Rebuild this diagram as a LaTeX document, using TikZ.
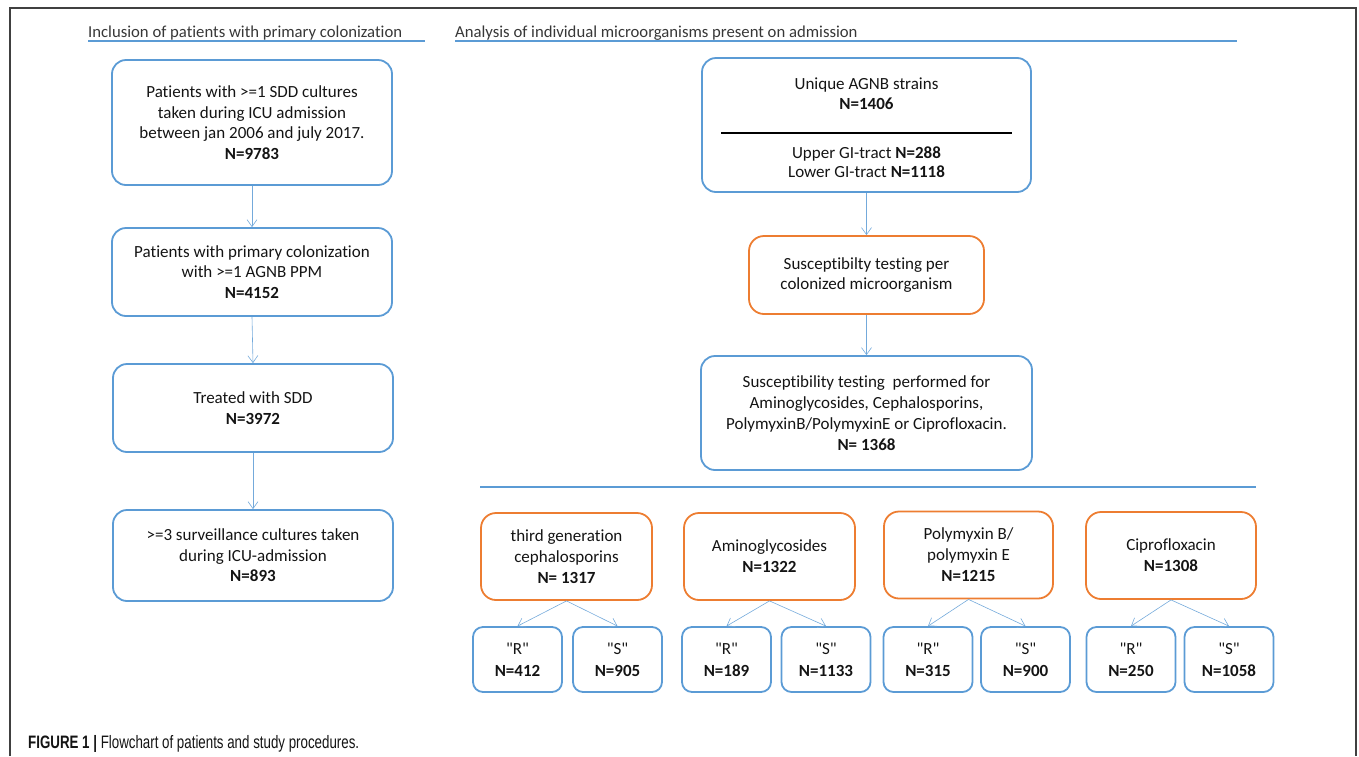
\documentclass[tikz,border=0pt]{standalone}
\usepackage{fontspec}
\setmainfont{Carlito}
\newfontfamily\calfont{Carlito}[Ligatures=NoCommon]
\newfontfamily\capfont{Liberation Sans}
\usetikzlibrary{arrows.meta}
\definecolor{oblue}{RGB}{91,155,213}
\definecolor{oorange}{RGB}{237,125,49}
\definecolor{txt}{RGB}{20,20,20}
\begin{document}
\begin{tikzpicture}[x=1pt,y=-1pt,
  box/.style={draw=oblue, line width=1.8pt, rounded corners=14pt, align=center, inner sep=0pt, text=txt, font=\calfont\fontsize{17}{20.5}\selectfont},
  obox/.style={box, draw=oorange, rounded corners=15pt},
  sbox/.style={box, rounded corners=10pt, font=\calfont\fontsize{17}{22}\selectfont},
  arr/.style={draw=oblue!85, line width=0.6pt, -{Straight Barb[length=7pt,width=10pt,line width=0.6pt]}},
  hline/.style={draw=oblue, line width=1.6pt},
  head/.style={inner sep=0pt, text=txt!85, font=\calfont\fontsize{16.7}{18}\selectfont}]
\useasboundingbox (0,0) rectangle (1359,756);
\draw[line width=1.1pt, draw=black!75] (10,756) -- (10,8) -- (1356,8) -- (1356,756);

% headers
\node[head, anchor=base west] (hl) at (88,37) {Inclusion of patients with primary colonization};
\node[head, anchor=base west] (hr) at (455,37) {Analysis of individual microorganisms present on admission};
\draw[hline] (88,41) -- (425,41);
\draw[hline] (455,41) -- (1237,41);

% left column
\node[box, minimum width=280pt, minimum height=125pt] (b1) at (252,122.5)
  {Patients with >=1 SDD cultures\\taken during ICU admission\\between jan 2006 and july 2017.\\\textbf{N=9783}};
\node[box, minimum width=280pt, minimum height=88pt] (b2) at (252,272)
  {Patients with primary colonization\\with >=1 AGNB PPM\\\textbf{N=4152}};
\node[box, minimum width=280pt, minimum height=88pt] (b3) at (253,408)
  {Treated with SDD\\\textbf{N=3972}};
\node[box, minimum width=280pt, minimum height=91pt] (b4) at (253,555.5)
  {>=3 surveillance cultures taken\\during ICU-admission\\\textbf{N=893}};
\draw[arr] (b1.south) -- (b2.north);
\draw[arr] (b2.south) -- (b3.north);
\draw[arr] (b3.south) -- (b4.north);

% right column
\node[box, minimum width=329pt, minimum height=134pt, font=\calfont\fontsize{17}{19.5}\selectfont] (ba) at (866.5,125)
  {\rule{0pt}{18pt}Unique AGNB strains\\\textbf{N=1406}\\[5pt]{\color{black}\rule{291pt}{1.6pt}}\\[5pt]Upper GI-tract \textbf{N=288}\\Lower GI-tract \textbf{N=1118}};
\node[obox, minimum width=235pt, minimum height=78pt] (bb) at (866.5,275)
  {Susceptibilty testing per\\colonized microorganism};
\node[box, minimum width=331pt, minimum height=114pt, font=\calfont\fontsize{17}{21}\selectfont] (bc) at (866.5,413)
  {Susceptibility testing\ \ performed for\\Aminoglycosides, Cephalosporins,\\PolymyxinB/PolymyxinE or Ciprofloxacin.\\\textbf{N= 1368}};
\draw[arr] (ba.south) -- (bb.north);
\draw[arr] (bb.south) -- (bc.north);

\draw[hline, line width=1.4pt] (480,487) -- (1256,487);

% antibiotic classes
\node[obox, minimum width=171pt, minimum height=87pt, font=\calfont\fontsize{17}{21}\selectfont] (o1) at (566.5,556.5)
  {third generation\\cephalosporins\\\textbf{N= 1317}};
\node[obox, minimum width=171pt, minimum height=87pt, font=\calfont\fontsize{17}{21}\selectfont] (o2) at (769.5,556.5)
  {Aminoglycosides\\\textbf{N=1322}};
\node[obox, minimum width=169pt, minimum height=87pt, font=\calfont\fontsize{17}{21}\selectfont] (o3) at (968.5,555)
  {Polymyxin B/\\polymyxin E\\\textbf{N=1215}};
\node[obox, minimum width=170pt, minimum height=87pt, font=\calfont\fontsize{17}{21}\selectfont] (o4) at (1171,555.5)
  {Ciprofloxacin\\\textbf{N=1308}};

\node[sbox, minimum width=89pt, minimum height=65pt] (r1) at (517.5,659.5) {"R"\\\textbf{N=412}};
\node[sbox, minimum width=89pt, minimum height=65pt] (s1) at (617.5,659.5) {"S"\\\textbf{N=905}};
\node[sbox, minimum width=89pt, minimum height=65pt] (r2) at (726.5,659.5) {"R"\\\textbf{N=189}};
\node[sbox, minimum width=89pt, minimum height=65pt] (s2) at (826,659.5) {"S"\\\textbf{N=1133}};
\node[sbox, minimum width=89pt, minimum height=65pt] (r3) at (928,659.5) {"R"\\\textbf{N=315}};
\node[sbox, minimum width=89pt, minimum height=65pt] (s3) at (1025.5,659.5) {"S"\\\textbf{N=900}};
\node[sbox, minimum width=89pt, minimum height=65pt] (r4) at (1131,659.5) {"R"\\\textbf{N=250}};
\node[sbox, minimum width=89pt, minimum height=65pt] (s4) at (1229,659.5) {"S"\\\textbf{N=1058}};

\foreach \o/\r/\s in {o1/r1/s1, o2/r2/s2, o3/r3/s3, o4/r4/s4} {
  \draw[arr] (\o.south) -- (\r.north);
  \draw[arr] (\o.south) -- (\s.north);
}

% caption
\node[anchor=base west, inner sep=0pt, text=txt] (cap) at (28,748)
  {\scalebox{0.74}[1]{\capfont\fontsize{18}{20}\selectfont\textbf{FIGURE 1} \textbf{|} Flowchart of patients and study procedures.}};
\end{tikzpicture}
\end{document}
